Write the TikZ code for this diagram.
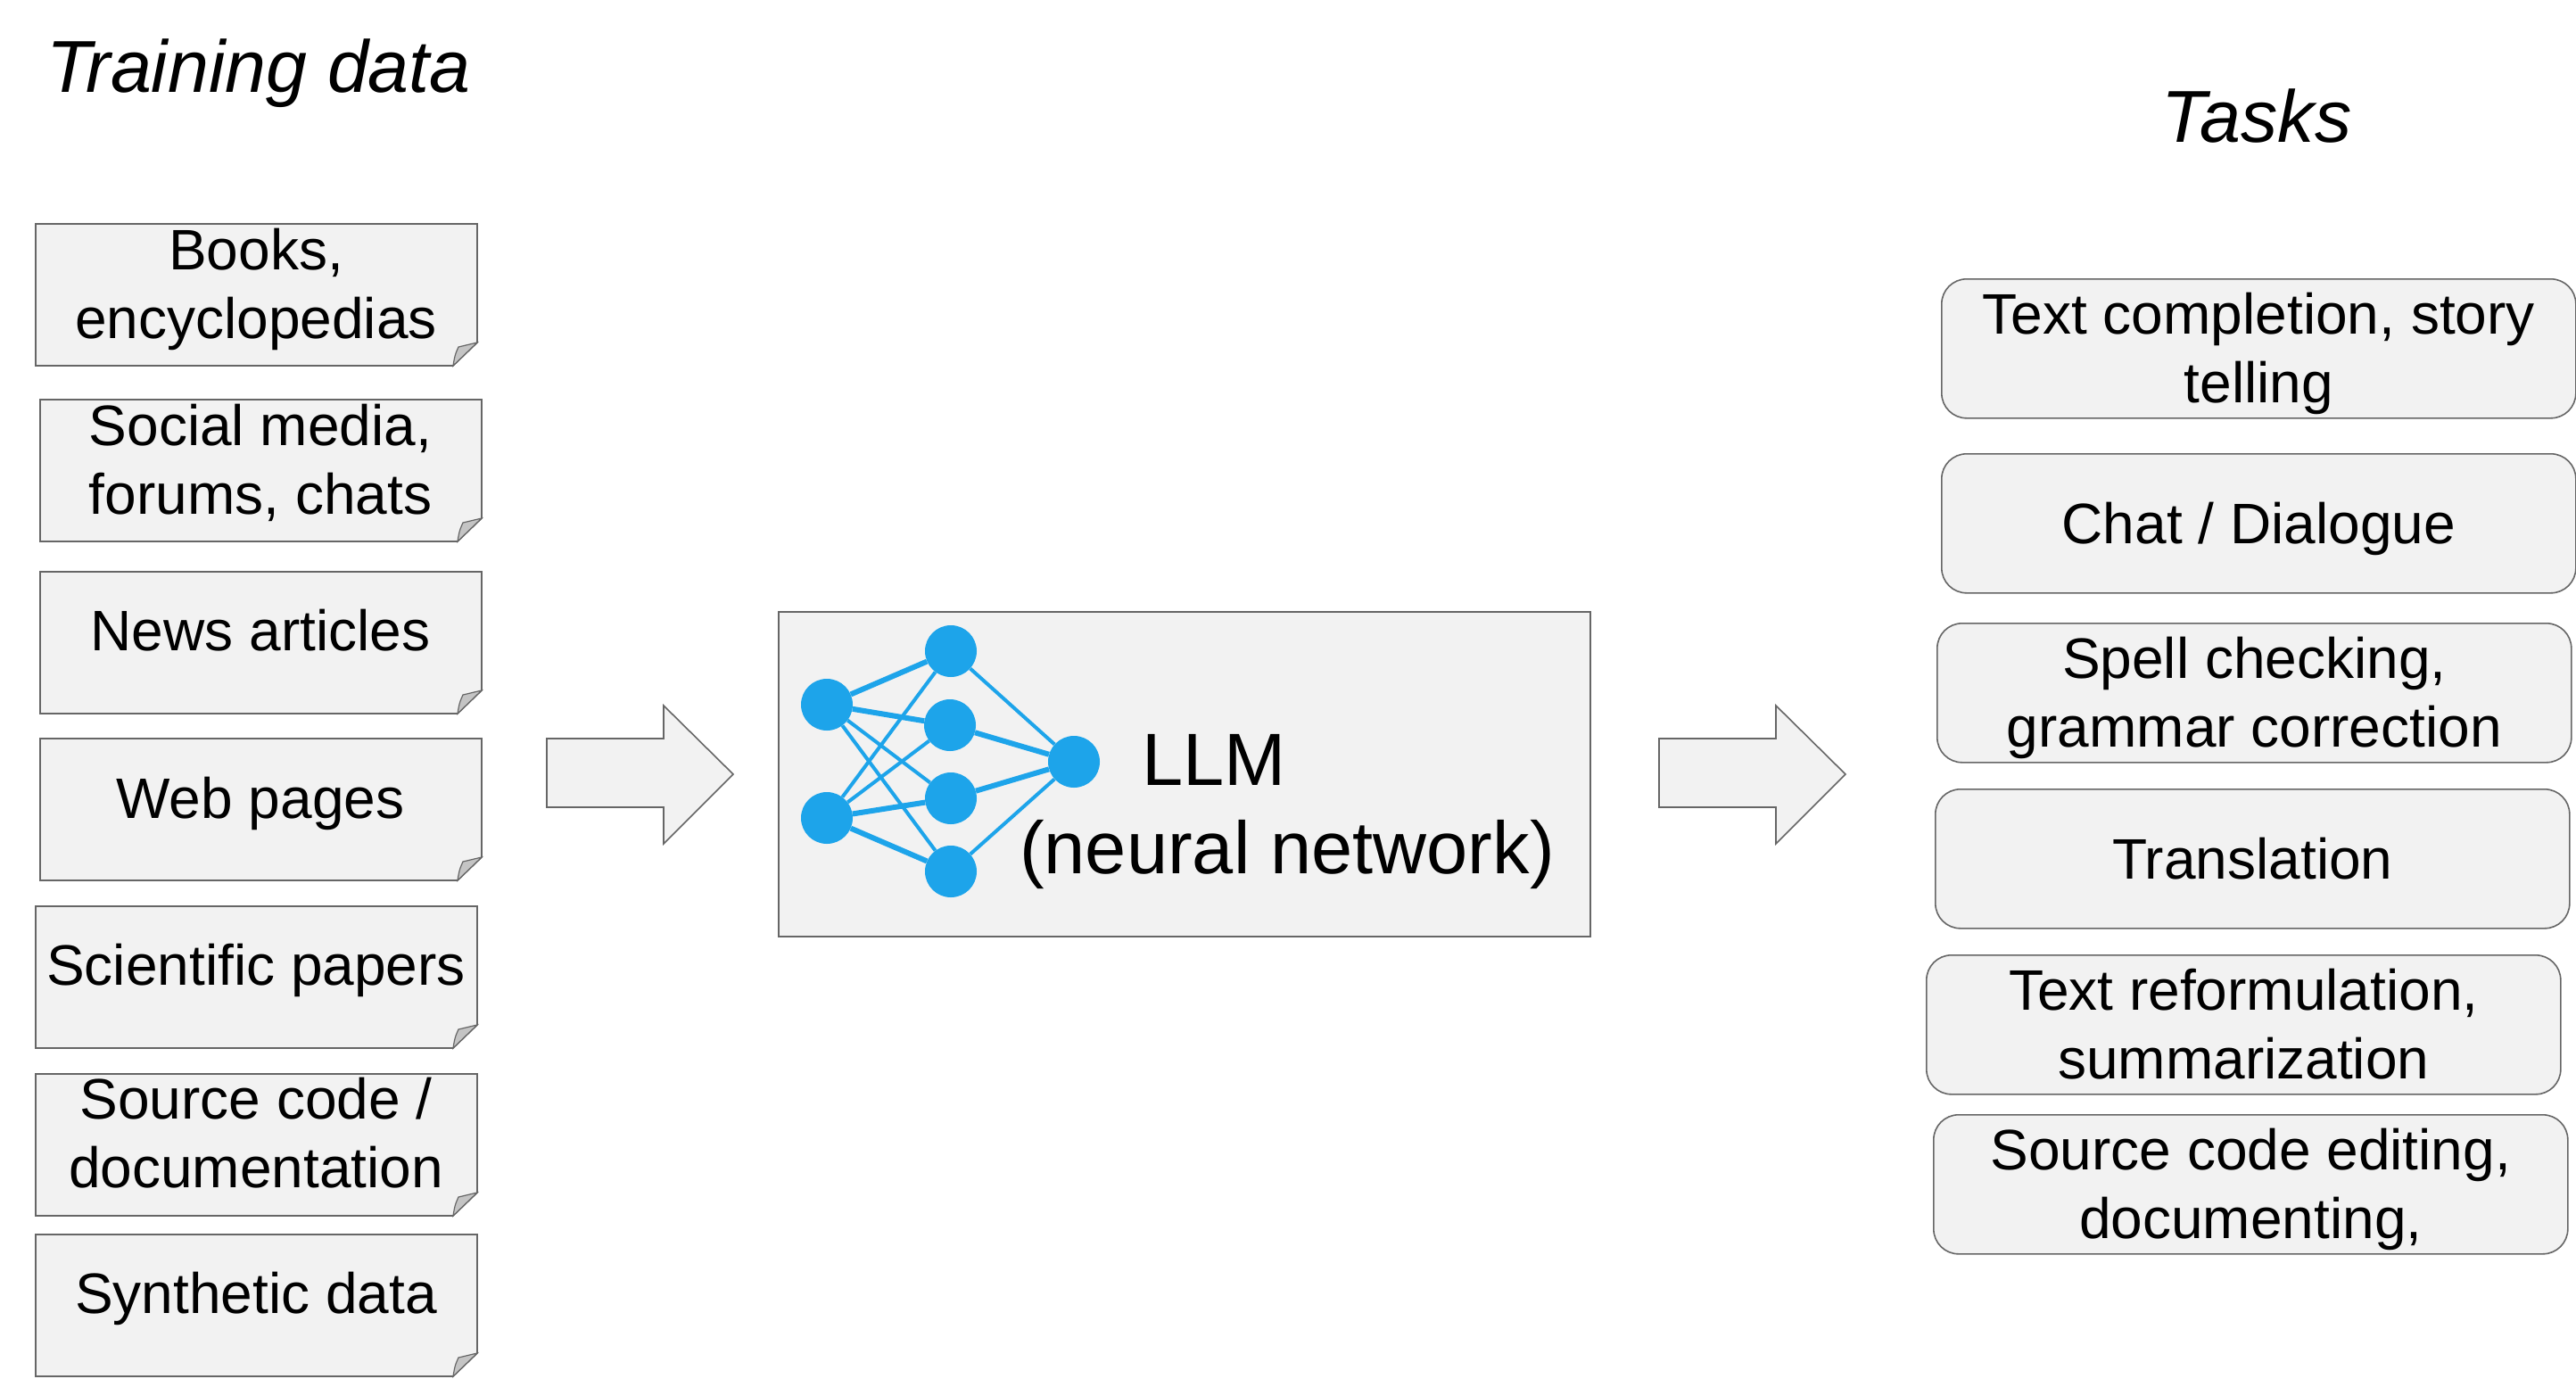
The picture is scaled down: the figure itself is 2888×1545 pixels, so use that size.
\documentclass[tikz,border=0pt]{standalone}
\usepackage{fontspec}
\setmainfont{Liberation Sans}
\usetikzlibrary{calc}
\definecolor{boxfill}{HTML}{F2F2F2}
\definecolor{boxline}{HTML}{666666}
\definecolor{foldfill}{HTML}{C4C4C4}
\definecolor{netblue}{HTML}{1DA4EA}
\tikzset{
  boxpath/.style={draw=boxline,fill=boxfill,line width=1.6pt,line join=miter},
  foldpath/.style={draw=boxline,fill=foldfill,line width=1.2pt},
  lbl/.style={inner sep=0pt,align=center,font=\fontsize{64}{77}\selectfont},
  taskbox/.style={boxpath,rounded corners=28pt,minimum width=711pt,minimum height=156pt,inner sep=0pt,anchor=north west},
  neuron/.style={circle,fill=netblue,inner sep=0pt,minimum size=58pt},
  syn/.style={draw=netblue,line width=4pt},
  synthick/.style={draw=netblue,line width=6pt},
  titletext/.style={inner sep=0pt,font=\fontsize{82.5}{99}\selectfont\itshape,anchor=base},
}
% #1 name, #2 left, #3 top, #4 text, #5 text centre offset from box centre
\newcommand\docbox[5]{%
  \draw[boxpath] (#2,#3) -- ++(495,0) -- ++(0,133) -- ++(-27,26) -- ++(-468,0) -- cycle;
  \draw[foldpath] ($(#2,#3)+(468,159)$) .. controls ($(#2,#3)+(470,147)$) .. ($(#2,#3)+(474,138)$) -- ($(#2,#3)+(495,133)$) -- cycle;
  \node[lbl] (#1) at ($(#2,#3)+(247,79.5+#5)$) {#4};
}
\newcommand\taskb[5]{%
  \node[taskbox] (#1) at (#2,#3) {};
  \node[lbl] (#1t) at ($(#1.center)+(0,#5)$) {#4};
}
\newcommand\blockarrow[1]{%
  \draw[boxpath] (#1,828) -- ++(131,0) -- ++(0,-37) -- ++(78,77) -- ++(-78,78) -- ++(0,-41) -- ++(-131,0) -- cycle;
}
\begin{document}
\begin{tikzpicture}[x=1pt,y=-1pt]
\useasboundingbox (0,0) rectangle (2888,1545);
\fill[white] (0,0) rectangle (2888,1545);

\node[titletext] (trainT) at (290,103) {Training data};
\node[titletext] (taskT) at (2530,159) {Tasks};

\docbox{d1}{40}{251}{\strut Books,\\\strut encyclopedias}{-4.5}
\docbox{d2}{45}{448}{\strut Social media,\\\strut forums, chats}{-4.5}
\docbox{d3}{45}{641}{\strut News articles}{-6.5}
\docbox{d4}{45}{828}{\strut Web pages}{-5.5}
\docbox{d5}{40}{1016}{\strut Scientific papers}{-6.5}
\docbox{d6}{40}{1204}{\strut Source code /\\\strut documentation}{-5.5}
\docbox{d7}{40}{1384}{\strut Synthetic data}{-6.5}

\blockarrow{613}
\blockarrow{1860}

\draw[boxpath] (873,686) rectangle (1783,1050);
\node[neuron] (i1) at (927,790) {};
\node[neuron] (i2) at (927,917) {};
\node[neuron] (h1) at (1066,730) {};
\node[neuron] (h2) at (1065,813) {};
\node[neuron] (h3) at (1066,895) {};
\node[neuron] (h4) at (1066,977) {};
\node[neuron] (o) at (1204,854) {};
\foreach \a/\b in {i1/h1,i1/h2,i2/h3,i2/h4,h2/o,h3/o}
  \draw[synthick] (\a) -- (\b);
\foreach \a/\b in {i1/h3,i1/h4,i2/h1,i2/h2,h1/o,h4/o}
  \draw[syn] (\a) -- (\b);
\node[inner sep=0pt,align=center,font=\fontsize{83}{99}\selectfont] (llm) at (1443,910)
  {\strut LLM\hspace*{164pt}\\\strut (neural network)};

\taskb{t1}{2176}{312}{\strut Text completion, story\\\strut telling}{7}
\taskb{t2}{2176}{508}{\strut Chat / Dialogue}{7}
\taskb{t3}{2171}{698}{\strut Spell checking,\\\strut grammar correction}{7}
\taskb{t4}{2169}{884}{\strut Translation}{7}
\taskb{t5}{2159}{1070}{\strut Text reformulation,\\\strut summarization}{7}
\taskb{t6}{2167}{1249}{\strut Source code editing,\\\strut documenting,}{7}
\end{tikzpicture}
\end{document}
